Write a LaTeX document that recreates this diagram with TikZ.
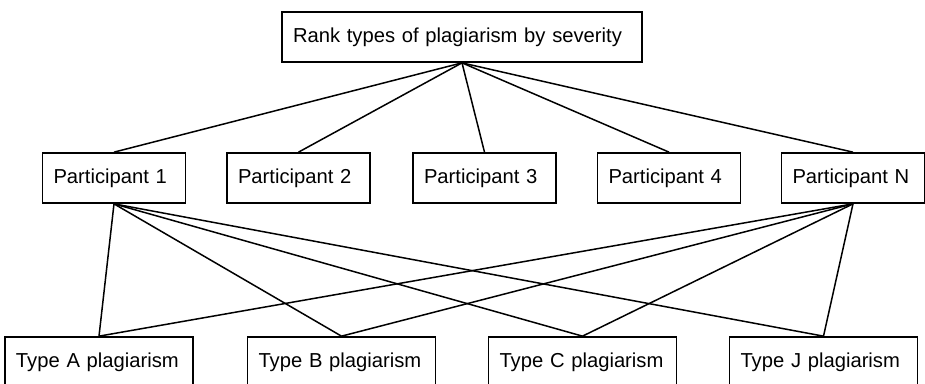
\documentclass[tikz,border=0pt]{standalone}
\usepackage{fontspec}
\setmainfont{Liberation Sans}
\begin{document}
\begin{tikzpicture}[x=1pt,y=-1pt,
    box/.style={draw=black, line width=1.7pt, minimum height=50pt, inner xsep=11pt, align=left, font=\fontsize{20.2}{23}\selectfont},
    pbox/.style={box, text width=121pt},
    tbox/.style={box, text width=166pt},
    link/.style={line width=1.5pt}]
    \useasboundingbox (0,0) rectangle (925,383);

    \node[box, text width=338pt] (rank) at (462,37) {Rank types of plagiarism by severity};

    \node[pbox] (p1) at (114,178) {Participant 1};
    \node[pbox] (p2) at (298.5,178) {Participant 2};
    \node[pbox] (p3) at (484.5,178) {Participant 3};
    \node[pbox] (p4) at (669,178) {Participant 4};
    \node[pbox] (pN) at (853,178) {Participant N};

    \node[tbox] (tA) at (99,362) {Type A plagiarism};
    \node[tbox] (tB) at (341.5,362) {Type B plagiarism};
    \node[tbox] (tC) at (582.5,362) {Type C plagiarism};
    \node[tbox] (tJ) at (823.5,362) {Type J plagiarism};

    \foreach \p in {p1,p2,p3,p4,pN} {
        \draw[link] (rank.south) -- (\p.north);
    }
    \foreach \p in {p1,pN} {
        \foreach \t in {tA,tB,tC,tJ} {
            \draw[link] (\p.south) -- (\t.north);
        }
    }
\end{tikzpicture}
\end{document}
